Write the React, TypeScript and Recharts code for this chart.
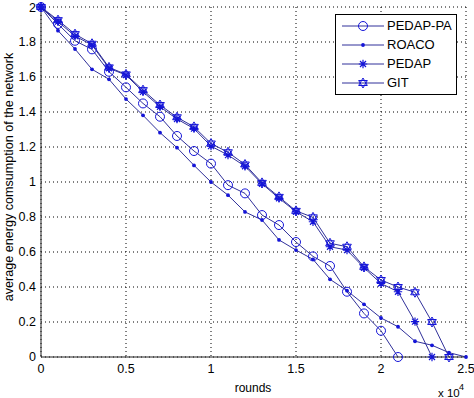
import { LineChart, Line, XAxis, YAxis, CartesianGrid } from 'recharts'

// rounds on the x axis (shown as x 10^4)
const rounds = [0, 1000, 2000, 3000, 4000, 5000, 6000, 7000, 8000, 9000, 10000, 11000, 12000, 13000, 14000, 15000, 16000, 17000, 18000, 19000, 20000, 21000, 22000, 23000, 24000, 25000]

const pedapPa = [2, 1.903, 1.807, 1.758, 1.63, 1.541, 1.449, 1.373, 1.263, 1.177, 1.105, 0.982, 0.935, 0.811, 0.754, 0.657, 0.575, 0.52, 0.373, 0.249, 0.15, 0]
const roaco = [2, 1.865, 1.76, 1.644, 1.587, 1.474, 1.381, 1.282, 1.196, 1.095, 1.0, 0.925, 0.829, 0.783, 0.669, 0.611, 0.558, 0.444, 0.379, 0.301, 0.223, 0.173, 0.09, 0.067, 0.025, 0]
const pedap = [2, 1.916, 1.834, 1.783, 1.65, 1.611, 1.515, 1.43, 1.36, 1.305, 1.205, 1.154, 1.09, 0.99, 0.907, 0.83, 0.773, 0.63, 0.611, 0.51, 0.42, 0.373, 0.202, 0]
const git = [2, 1.925, 1.845, 1.79, 1.655, 1.615, 1.525, 1.44, 1.37, 1.315, 1.22, 1.17, 1.1, 0.995, 0.915, 0.835, 0.798, 0.65, 0.63, 0.515, 0.44, 0.4, 0.37, 0.2, 0]

const xTicks = [0, 5000, 10000, 15000, 20000, 25000]
const yTicks = [0, 0.2, 0.4, 0.6, 0.8, 1, 1.2, 1.4, 1.6, 1.8, 2]

const LINE = '#30309a'
const MARK = '#1414d8'
const FONT = '"Liberation Sans", Arial, sans-serif'

const chartData = rounds.map((r, i) => ({
  r,
  pedapPa: pedapPa[i],
  roaco: roaco[i],
  pedap: pedap[i],
  git: git[i],
}))

const ok = (v: any) => typeof v === 'number' && isFinite(v)

function marker(kind: string, cx: number, cy: number) {
  if (kind === 'circle') {
    return <circle cx={cx} cy={cy} r={4.5} fill="none" stroke={MARK} strokeWidth={1} />
  }
  if (kind === 'dot') {
    return <circle cx={cx} cy={cy} r={1.9} fill={MARK} />
  }
  if (kind === 'star') {
    const a = 4.2
    const b = 3
    return (
      <path
        d={`M${cx - a},${cy}H${cx + a}M${cx},${cy - a}V${cy + a}M${cx - b},${cy - b}L${cx + b},${cy + b}M${cx - b},${cy + b}L${cx + b},${cy - b}`}
        stroke={MARK}
        strokeWidth={1.2}
        fill="none"
      />
    )
  }
  // hexagram
  const r = 5
  const tri = (start: number) =>
    [0, 1, 2]
      .map((k) => {
        const ang = ((start + k * 120) * Math.PI) / 180
        return `${cx + r * Math.cos(ang)},${cy + r * Math.sin(ang)}`
      })
      .join(' ')
  return (
    <g>
      <polygon points={tri(-90)} fill="none" stroke={MARK} strokeWidth={1} />
      <polygon points={tri(90)} fill="none" stroke={MARK} strokeWidth={1} />
    </g>
  )
}

const makeDot = (kind: string) => (props: any) => {
  const { cx, cy, index } = props
  if (!ok(cx) || !ok(cy) || props.value == null) return <g key={`${kind}-${index}`} />
  return <g key={`${kind}-${index}`}>{marker(kind, cx, cy)}</g>
}

const series = [
  { key: 'pedapPa', name: 'PEDAP-PA', kind: 'circle' },
  { key: 'roaco', name: 'ROACO', kind: 'dot' },
  { key: 'pedap', name: 'PEDAP', kind: 'star' },
  { key: 'git', name: 'GIT', kind: 'hex' },
]

const tickStyle = { fontSize: 12.5, fill: '#000', fontFamily: FONT }

export default function App() {
  return (
    <div style={{ position: 'relative', width: 474, height: 398, background: '#fff' }}>
      <style>{`body{margin:0}`}</style>
      <LineChart width={474} height={398} data={chartData} margin={{ top: 7, right: 8, bottom: 0, left: 0 }}>
        <CartesianGrid stroke="#000" strokeDasharray="1 3" />
        <XAxis
          dataKey="r"
          type="number"
          domain={[0, 25000]}
          ticks={xTicks}
          height={41}
          tickLine={false}
          tickSize={2}
          tickMargin={5}
          stroke="#222"
          tick={tickStyle}
          tickFormatter={(v: number) => String(v / 10000)}
          label={{
            content: () => (
              <g>
                <text x={253} y={392} textAnchor="middle" fontSize={12} fontFamily={FONT} fill="#000">
                  rounds
                </text>
                <text x={438} y={397} fontSize={11.5} fontFamily={FONT} fill="#000">
                  x 10
                </text>
                <text x={459} y={390} fontSize={9} fontFamily={FONT} fill="#000">
                  4
                </text>
              </g>
            ),
          }}
        />
        <XAxis xAxisId="top" orientation="top" type="number" domain={[0, 25000]} ticks={xTicks} height={0} tick={false} tickLine={false} stroke="#222" />
        <YAxis
          type="number"
          domain={[0, 2]}
          ticks={yTicks}
          width={41}
          tickLine={false}
          tickSize={0}
          tickMargin={5}
          stroke="#222"
          tick={tickStyle}
          tickFormatter={(v: number) => String(+v.toFixed(1))}
          label={{
            content: () => (
              <text
                x={9}
                y={177}
                transform="rotate(-90 9 177)"
                textAnchor="middle"
                dominantBaseline="central"
                fontSize={12.6}
                fontFamily={FONT}
                fill="#000"
              >
                average energy comsumption of the network
              </text>
            ),
          }}
        />
        <YAxis yAxisId="right" orientation="right" type="number" domain={[0, 2]} ticks={yTicks} width={0} tick={false} tickLine={false} stroke="#222" />
        {series.map((s) => (
          <Line
            key={s.key}
            dataKey={s.key}
            name={s.name}
            type="linear"
            stroke={LINE}
            strokeWidth={1}
            dot={makeDot(s.kind)}
            activeDot={false}
            isAnimationActive={false}
          />
        ))}
      </LineChart>

      {/* legend box */}
      <div
        style={{
          position: 'absolute',
          left: 335,
          top: 14,
          width: 122,
          height: 81,
          border: '1px solid #000',
          background: '#fff',
          boxSizing: 'border-box',
          fontFamily: FONT,
          fontSize: 13,
          color: '#000',
        }}
      >
        {series.map((s, i) => (
          <div key={s.key} style={{ position: 'absolute', left: 6, top: 3 + i * 19, height: 16, display: 'flex', alignItems: 'center' }}>
            <svg width={42} height={16} style={{ display: 'block' }}>
              <line x1={0} y1={8} x2={42} y2={8} stroke={LINE} strokeWidth={1} />
              {marker(s.kind, 21, 8)}
            </svg>
            <span style={{ marginLeft: 3, lineHeight: '16px' }}>{s.name}</span>
          </div>
        ))}
      </div>
    </div>
  )
}
